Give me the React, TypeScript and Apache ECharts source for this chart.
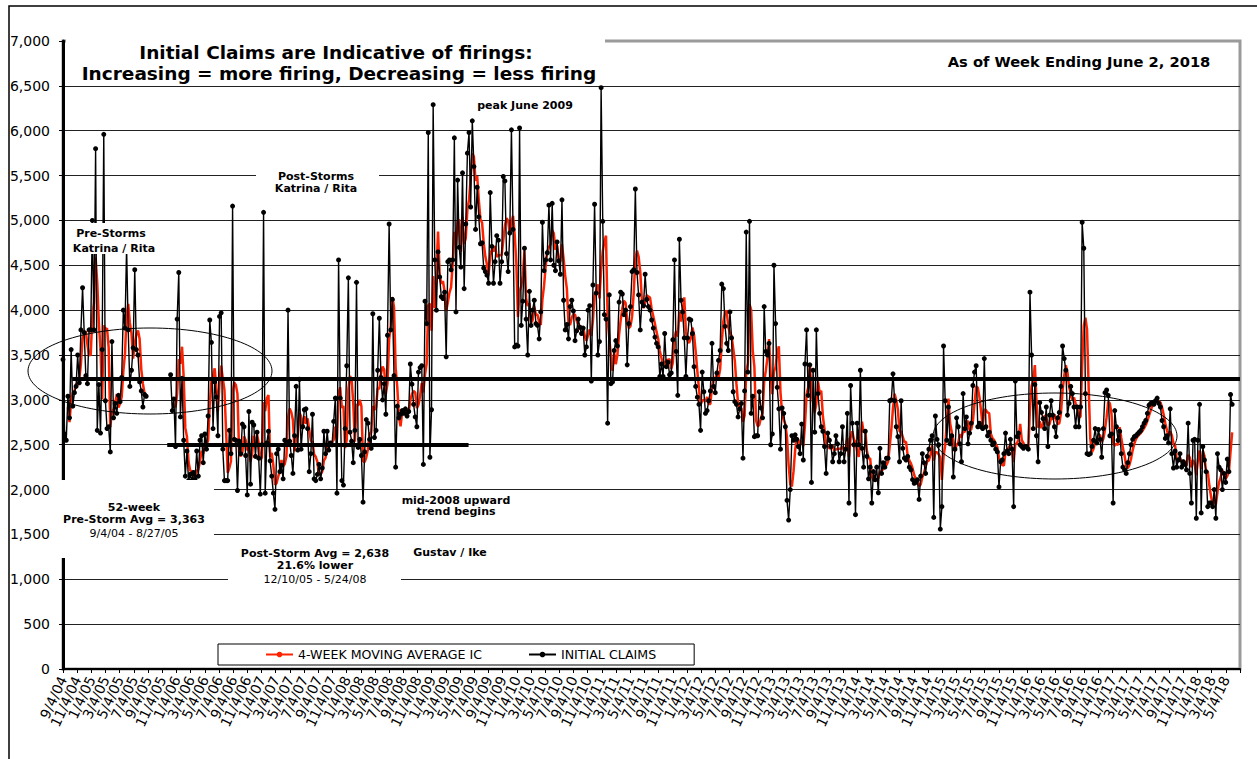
import React, { useEffect, useRef } from "react";
import * as echarts from "echarts";

const FONT = '"DejaVu Sans", Verdana, sans-serif';

// x-axis tick labels, one every two months starting 9/4/04
const tickLabels = [
  "9/4/04", "11/4/04",
  "1/4/05", "3/4/05", "5/4/05", "7/4/05", "9/4/05", "11/4/05",
  "1/4/06", "3/4/06", "5/4/06", "7/4/06", "9/4/06", "11/4/06",
  "1/4/07", "3/4/07", "5/4/07", "7/4/07", "9/4/07", "11/4/07",
  "1/4/08", "3/4/08", "5/4/08", "7/4/08", "9/4/08", "11/4/08",
  "1/4/09", "3/4/09", "5/4/09", "7/4/09", "9/4/09", "11/4/09",
  "1/4/10", "3/4/10", "5/4/10", "7/4/10", "9/4/10", "11/4/10",
  "1/4/11", "3/4/11", "5/4/11", "7/4/11", "9/4/11", "11/4/11",
  "1/4/12", "3/4/12", "5/4/12", "7/4/12", "9/4/12", "11/4/12",
  "1/4/13", "3/4/13", "5/4/13", "7/4/13", "9/4/13", "11/4/13",
  "1/4/14", "3/4/14", "5/4/14", "7/4/14", "9/4/14", "11/4/14",
  "1/4/15", "3/4/15", "5/4/15", "7/4/15", "9/4/15", "11/4/15",
  "1/4/16", "3/4/16", "5/4/16", "7/4/16", "9/4/16", "11/4/16",
  "1/4/17", "3/4/17", "5/4/17", "7/4/17", "9/4/17", "11/4/17",
  "1/4/18", "3/4/18", "5/4/18",
];

// Weekly initial claims (week 0 = week ending 9/4/04); null = weeks excluded
const claims2004 = [3450, 2620, 2550, 3040, 2800, 3560, 2930, 3080, 3150, 3500, 3190, 3780, 4250, 3750, 3270, 3180, 3780];
const claims2005 = [3780, 5000, 3780, 5800, 2660, 3170, 2630, 3560, 5960, 2990, 2680, 2700, 2420, 3650, 2800, 2960, 2850, 3050, 2980, 3250, 4000, 3800, 4700, 3780, 3150, 3330, 3580, 4450, 3560, 3500, 3200, 3100, 2920, 3060, 3040,
  null, null, null, null, null, null, null, null, null, null, null, null, null, null,
  3280, 2880, 3010];
const claims2006 = [2480, 3900, 4420, 2810, 3240, 2550, 2150, 2430, 2100, 2170, 2100, 2190, 2120, 2430, 2150, 2550, 2600, 2300, 2620, 2450, 2820, 3890, 3640, 2680, 3200, 3030, 2600, 3930, 3970, 2450, 2100, 2100, 2100, 2660, 2400, 5160, 2560, 2550, 1990, 2540, 2400, 2730, 2700, 2380, 1940, 2870, 2060, 2750, 2720, 2370, 2640, 2350];
const claims2007 = [1950, 2500, 5090, 1960, 2520, 2650, 2320, 2150, 1960, 1780, 2400, 2450, 2200, 2270, 2120, 2550, 2530, 4000, 2540, 2380, 2180, 2600, 3150, 2440, 3230, 2450, 2700, 2890, 2900, 2680, 2200, 2400, 2840, 2120, 2100, 2170, 2280, 2120, 2240, 2650, 2400, 2650, 2440, 2520, 2500, 2760, 3020, 1960, 4560, 3020, 2100, 2050];
const claims2008 = [2680, 3380, 4360, 2640, 2540, 2300, 2660, 4310, 2470, 2560, 2380, 1860, 2420, 2780, 2740, 2560, 2460, 3960, 2580, 2660, 3330, 3910, 3250, 3000, 3180, 2840, 3720, 4960, 3780, 4120, 3270, 2250, 2930, 2800, 2840, 2880, 2850, 2900, 2820, 2870, 3400, 3175, 2950, 2810, 2700, 3310, 3360, 3380, 2280, 4100, 3850, 5980];
const claims2009 = [2360, 2890, 6290, 4560, 4000, 4650, 4370, 4150, 4130, 4200, 3480, 4540, 4560, 4450, 4560, 5920, 3980, 5450, 4700, 4480, 5530, 4240, 4960, 5750, 5980, 5150, 6110, 5600, 4900, 5370, 5040, 4740, 4750, 4470, 4430, 4390, 4300, 5310, 4710, 4300, 4540, 4830, 4780, 4300, 4540, 5490, 5440, 4630, 4430, 4860, 6010, 4900, 3590];
const claims2010 = [3610, 3600, 6030, 3830, 4100, 4690, 3900, 3500, 4210, 3830, 4000, 4110, 3850, 3830, 3680, 3980, 4980, 4440, 4560, 4640, 5170, 4560, 5190, 4500, 4440, 4760, 4550, 4400, 5230, 4110, 3780, 3840, 3680, 4040, 4110, 3990, 3660, 3770, 3900, 3810, 3740, 3800, 3500, 3590, 4000, 4050, 3210, 4280, 5180, 4190, 3500, 3650];
const claims2011 = [6480, 4990, 3950, 3900, 2740, 4170, 3180, 3200, 3550, 3660, 3600, 4090, 4200, 4180, 3950, 4000, 3390, 3850, 4040, 4430, 4450, 5350, 4420, 4170, 3780, 4090, 4050, 4400, 4120, 4040, 4000, 3890, 3800, 3700, 3630, 3590, 3260, 3400, 3260, 3740, 3370, 3420, 3280, 3300, 3670, 4560, 3540, 3050, 4790, 4110, 3980, 3690];
const claims2012 = [3260, 3690, 3900, 3890, 3740, 3370, 3150, 3030, 2950, 2660, 3310, 3090, 2850, 2880, 2990, 3100, 3630, 3150, 3080, 3300, 3440, 3550, 4290, 4240, 3820, 3630, 3550, 3980, 3690, 3090, 2980, 2950, 2810, 2900, 2960, 2350, 3100, 4870, 3310, 4990, 2850, 3040, 2590, 2600, 2600, 3090, 2910, 2800, 4040, 3540, 3500, 3630];
const claims2013 = [2500, 2620, 4500, 3850, 3140, 2900, 2450, 2910, 2850, 2700, 1880, 1660, 2000, 2600, 2550, 2610, 2560, 2480, 2400, 2730, 2330, 3400, 3780, 3050, 3390, 2080, 3330, 2640, 3780, 3070, 2850, 2700, 2650, 2480, 2180, 2630, 2550, 2480, 2310, 2400, 2600, 2510, 2310, 2400, 2700, 2310, 2450, 2850, 1850, 3160, 2740, 2500];
const claims2014 = [1720, 2740, 2500, 3330, 2460, 2250, 2650, 2370, 2120, 2250, 1850, 2200, 2110, 2250, 1965, 2460, 2180, 2300, 2250, 2350, 2350, 2990, 3000, 3290, 2990, 2700, 2590, 2310, 2990, 2460, 2350, 2330, 2370, 2250, 2220, 2110, 2070, 2080, 2110, 1890, 2150, 2400, 2300, 2180, 2370, 2450, 2550, 2600, 1690, 2820, 2560, 2500, 1560];
const claims2015 = [1810, 3600, 2990, 2550, 2920, 2510, 2600, 2140, 2450, 2800, 2700, 2510, 2310, 3070, 2680, 2810, 2510, 2630, 2740, 3160, 3310, 3380, 2700, 2740, 2700, 2680, 3460, 2700, 2600, 2640, 2550, 2500, 2520, 2450, 2420, 2030, 2310, 2330, 2400, 2630, 2430, 2400, 2560, 2450, 1810, 3210, 2590, 2630, 2500, 2480, 2460, 2480];
const claims2016 = [2480, 2450, 4200, 3500, 2680, 3170, 2600, 2310, 2970, 2860, 2790, 2680, 2920, 2480, 2830, 2990, 2830, 2700, 2590, 2800, 2860, 3150, 3600, 3460, 3330, 2830, 2960, 3150, 3070, 2920, 2700, 2920, 2700, 2920, 4980, 4690, 3070, 2400, 2390, 2400, 2480, 2550, 2680, 2520, 2670, 2560, 2360, 2680, 3080, 3110, 3050, 2600];
const claims2017 = [2620, 1850, 2880, 2700, 2550, 2650, 2400, 2250, 2220, 2180, 2300, 2400, 2500, 2560, 2590, 2600, 2620, 2640, 2660, 2700, 2740, 2770, 2850, 2940, 2960, 2970, 2950, 2990, 3020, 2960, 2920, 2770, 2700, 2570, 2600, 2520, 2900, 2400, 2240, 2430, 2250, 2330, 2400, 2250, 2310, 2280, 2220, 2740, 2180, 1850, 2550, 2560];
const claims2018 = [1680, 2550, 2950, 1740, 2480, 2330, 2200, 1810, 1850, 1850, 1810, 2000, 1680, 2400, 2250, 2220, 2000, 2180, 2080, 2340, 2200, 3060, 2950];

// first week index of each yearly array
const yearSegments: [number, (number | null)[]][] = [
  [0, claims2004], [17, claims2005], [69, claims2006], [121, claims2007], [173, claims2008],
  [225, claims2009], [278, claims2010], [330, claims2011], [382, claims2012], [434, claims2013],
  [486, claims2014], [539, claims2015], [591, claims2016], [643, claims2017], [695, claims2018],
];

// thick reference lines
const preStormLevel = 3235;
const postStormLevel = 2500;

const TOTAL_WEEKS = 718;
const X_MAX_MONTHS = 166;
const weekToMonth = (w: number) => (w * 7) / 30.4375;

function buildSeries() {
  const weekly: (number | null)[] = new Array(TOTAL_WEEKS).fill(null);
  for (const [start, vals] of yearSegments) {
    vals.forEach((v, j) => {
      if (start + j < TOTAL_WEEKS) weekly[start + j] = v;
    });
  }
  const claims: [number, number | null][] = weekly.map((v, i) => [weekToMonth(i), v]);
  const ma: [number, number | null][] = weekly.map((_, i) => {
    if (i < 3) return [weekToMonth(i), null];
    const win = weekly.slice(i - 3, i + 1);
    if (win.some((x) => x == null)) return [weekToMonth(i), null];
    return [weekToMonth(i), (win as number[]).reduce((a, b) => a + b, 0) / 4];
  });
  return { claims, ma };
}

const txt = (text: string, x: number, y: number, size: number, bold: boolean, lineHeight?: number) => ({
  type: "text",
  z: 110,
  silent: true,
  style: {
    text,
    x,
    y,
    fill: "#000",
    font: `${bold ? "bold " : ""}${size}px ${FONT}`,
    lineHeight: lineHeight ?? Math.round(size * 1.2),
    align: "center",
    verticalAlign: "middle",
    textAlign: "center",
    textVerticalAlign: "middle",
  },
});

const whiteBox = (x: number, y: number, w: number, h: number) => ({
  type: "rect",
  z: 100,
  silent: true,
  shape: { x, y, width: w, height: h },
  style: { fill: "#fff" },
});

export default function App() {
  const ref = useRef<HTMLDivElement>(null);
  useEffect(() => {
    if (!ref.current) return;
    const chart = echarts.init(ref.current, undefined, { renderer: "svg" });
    const { claims, ma } = buildSeries();
    const labelCats = [...tickLabels, ""]; // one category per 2-month tick, 0..166 months
    const option: any = {
      animation: false,
      backgroundColor: "#fff",
      textStyle: { fontFamily: FONT },
      grid: {
        left: 63, right: 17, top: 41, bottom: 90,
        show: true, borderColor: "#9a9a9a", borderWidth: 3, backgroundColor: "#fff",
      },
      legend: {
        left: 218, top: 644,
        backgroundColor: "#fff", borderColor: "#000", borderWidth: 1,
        padding: [4, 38, 4, 47], itemGap: 46, itemWidth: 27, itemHeight: 7,
        textStyle: { fontFamily: FONT, fontSize: 12.6, color: "#000" },
        data: ["4-WEEK MOVING AVERAGE IC", "INITIAL CLAIMS"],
      },
      xAxis: [
        {
          type: "value", min: 0, max: X_MAX_MONTHS, show: false,
        },
        {
          type: "category", data: labelCats, boundaryGap: false, position: "bottom",
          axisLine: { show: true, onZero: false, lineStyle: { color: "#000", width: 2 } },
          axisTick: { show: true, length: 4, interval: 0, lineStyle: { color: "#000" } },
          splitLine: { show: false },
          axisLabel: {
            interval: 0, rotate: 65, margin: 8, fontSize: 14, color: "#000", fontFamily: FONT,
          },
        },
      ],
      yAxis: {
        type: "value", min: 0, max: 7000, interval: 500,
        axisLine: { show: true, lineStyle: { color: "#000", width: 3 } },
        axisTick: { show: true, length: 4, lineStyle: { color: "#000" } },
        splitLine: { show: true, showMaxLine: false, showMinLine: false, lineStyle: { color: "#222", width: 1 } },
        axisLabel: {
          margin: 13, fontSize: 14, color: "#000", fontFamily: FONT,
          formatter: (v: number) => v.toLocaleString("en-US"),
        },
      },
      series: [
        {
          name: "4-WEEK MOVING AVERAGE IC", type: "line", data: ma, xAxisIndex: 0,
          symbol: "none", connectNulls: false, z: 2,
          lineStyle: { color: "#ff2200", width: 2.5 }, itemStyle: { color: "#ff2200" },
        },
        {
          name: "INITIAL CLAIMS", type: "line", data: claims, xAxisIndex: 0,
          symbol: "circle", symbolSize: 5, showAllSymbol: true, connectNulls: false, z: 3,
          lineStyle: { color: "#000", width: 1.4 }, itemStyle: { color: "#000" },
          markLine: {
            silent: true, symbol: ["none", "none"], label: { show: false },
            lineStyle: { color: "#000", width: 4, type: "solid" },
            data: [
              [{ coord: [1.3, preStormLevel] }, { coord: [X_MAX_MONTHS, preStormLevel] }],
              [{ coord: [14.7, postStormLevel] }, { coord: [57.2, postStormLevel] }],
            ],
          },
        },
      ],
      graphic: [
        whiteBox(66, 26, 539, 57),
        txt("Initial Claims are Indicative of firings:", 336, 52, 18.5, true),
        txt("Increasing = more firing, Decreasing = less firing", 339, 73, 18.5, true),
        txt("As of Week Ending June 2, 2018", 1079, 61, 14.7, true),
        txt("peak June 2009", 525, 105, 11, true),
        whiteBox(256, 167, 123, 30),
        txt("Post-Storms", 316, 176, 11, true),
        txt("Katrina / Rita", 316, 188, 11, true),
        whiteBox(70, 223, 90, 31),
        txt("Pre-Storms", 111, 233, 11, true),
        txt("Katrina / Rita", 114, 248, 11, true),
        whiteBox(55, 480, 159, 78),
        txt("52-week", 134, 507, 11, true),
        txt("Pre-Storm Avg = 3,363", 134, 519, 11, true),
        txt("9/4/04 - 8/27/05", 134, 533, 11, false),
        whiteBox(228, 537, 173, 53),
        txt("Post-Storm Avg = 2,638", 315, 553, 11, true),
        txt("21.6% lower", 315, 565, 11, true),
        txt("12/10/05 - 5/24/08", 315, 579, 11, false),
        txt("mid-2008 upward\ntrend begins", 456, 506, 11, true, 10.5),
        txt("Gustav / Ike", 450, 552, 11, true),
        {
          type: "ellipse", z: 120, silent: true,
          shape: { cx: 150, cy: 371, rx: 122, ry: 43 },
          style: { fill: "none", stroke: "#000", lineWidth: 1 },
        },
        {
          type: "ellipse", z: 120, silent: true,
          shape: { cx: 1055, cy: 436, rx: 122, ry: 43 },
          style: { fill: "none", stroke: "#000", lineWidth: 1 },
        },
        {
          type: "rect", z: 130, silent: true,
          shape: { x: 9, y: 6, width: 1300, height: 800 },
          style: { fill: "none", stroke: "#000", lineWidth: 1.5 },
        },
      ],
    };
    chart.setOption(option);
    return () => chart.dispose();
  }, []);
  return (
    <div
      ref={ref}
      style={{ position: "absolute", left: 0, top: 0, width: 1257, height: 759, background: "#fff" }}
    />
  );
}
